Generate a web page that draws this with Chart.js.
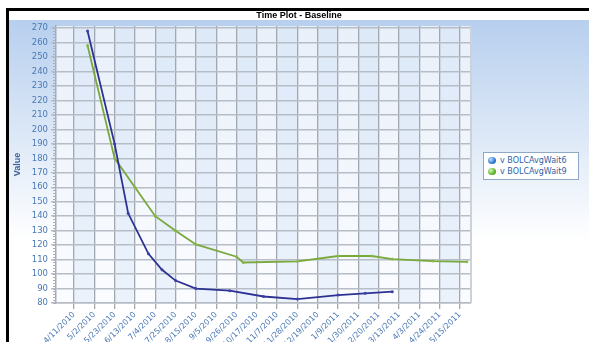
<!DOCTYPE html>
<html>
<head>
<meta charset="utf-8">
<script src="https://cdn.jsdelivr.net/npm/chart.js@4.4.0/dist/chart.umd.min.js"></script>
<style>
  html, body { margin: 0; padding: 0; background: #fff; overflow: hidden; }
  #frame { position: absolute; left: 6px; top: 8px; width: 580px; height: 331px;
           border-top: 3px solid #000; border-left: 3px solid #000; }
  #frame canvas { display: block; }
  #legend { position: absolute; left: 483px; top: 152px; width: 94px; height: 26px;
            border: 1px solid #8ea8c8; background: #fff;
            font: 8px "DejaVu Sans", sans-serif; color: #2f5fa6; }
  #legend div { position: absolute; left: 4px; white-space: nowrap; }
  #legend span { display: inline-block; width: 8px; height: 7px; border-radius: 50%;
                 margin-right: 4px; vertical-align: -1px; }
</style>
</head>
<body>
<div id="frame"><canvas id="plot" width="580" height="331"></canvas></div>
<div id="legend">
  <div style="top:3px"><span style="background:radial-gradient(circle at 35% 35%, #bfe0ff, #2f78cf 60%, #1d4f96)"></span>v BOLCAvgWait6</div>
  <div style="top:14px"><span style="background:radial-gradient(circle at 35% 35%, #d9f5b8, #5cb52a 60%, #3a7f16)"></span>v BOLCAvgWait9</div>
</div>
<script>
// data
var dates6 = ["4/25/2010", "5/23/2010", "6/6/2010", "6/27/2010", "7/11/2010", "7/25/2010", "8/15/2010",
              "9/19/2010", "10/24/2010", "11/28/2010", "1/9/2011", "2/6/2011", "3/6/2011"];
var wait6 = [268, 190, 142, 114, 103, 95.5, 90, 88.5, 84.5, 82.7, 85.5, 86.7, 87.8];

var dates9 = ["4/25/2010", "5/23/2010", "6/13/2010", "7/4/2010", "7/25/2010", "8/15/2010", "9/26/2010",
              "10/3/2010", "11/28/2010", "1/9/2011", "2/13/2011", "3/6/2011", "4/17/2011", "5/22/2011"];
var wait9 = [258, 180, 160, 140, 130, 120.5, 112, 108, 108.8, 112.5, 112.5, 110.4, 109, 108.5];

var tickLabels = ["4/11/2010", "5/2/2010", "5/23/2010", "6/13/2010", "7/4/2010", "7/25/2010", "8/15/2010",
                  "9/5/2010", "9/26/2010", "10/17/2010", "11/7/2010", "11/28/2010", "12/19/2010",
                  "1/9/2011", "1/30/2011", "2/20/2011", "3/13/2011", "4/3/2011", "4/24/2011", "5/15/2011"];

function dayNum(s) {
  var p = s.split("/");
  return Date.UTC(+p[2], +p[0] - 1, +p[1]) / 86400000;
}

function toPoints(dates, vals) {
  return dates.map(function (d, i) { return { x: dayNum(d), y: vals[i] }; });
}

var start = dayNum(tickLabels[0]);

var bgPlugin = {
  id: "bg",
  beforeDraw: function (chart) {
    var c = chart.ctx, a = chart.chartArea, xs = chart.scales.x;
    c.save();
    c.fillStyle = "#fff";
    c.fillRect(0, 0, chart.width, chart.height);
    var g = c.createLinearGradient(0, 9, 0, 230);
    g.addColorStop(0, "#b7cfee");
    g.addColorStop(1, "#ffffff");
    c.fillStyle = g;
    c.fillRect(0, 9, chart.width, chart.height - 9);

    var g2 = c.createLinearGradient(0, a.top, 0, a.bottom);
    g2.addColorStop(0, "#e9f0fa");
    g2.addColorStop(1, "#fbfcff");
    c.fillStyle = g2;
    c.fillRect(a.left, a.top, a.right - a.left, a.bottom - a.top);

    // every other column a little bluer
    c.fillStyle = "rgba(180,208,242,0.22)";
    var t = xs.ticks;
    for (var i = 0; i < t.length; i += 2) {
      var x0 = xs.getPixelForValue(t[i].value);
      var x1 = i + 1 < t.length ? xs.getPixelForValue(t[i + 1].value) : a.right;
      c.fillRect(x0, a.top, x1 - x0, a.bottom - a.top);
    }
    c.restore();
  },
  beforeDatasetsDraw: function (chart) {
    var c = chart.ctx, a = chart.chartArea, ys = chart.scales.y;
    c.save();
    // minor ticks on the value axis
    c.strokeStyle = "#a8b0ba";
    c.lineWidth = 1;
    for (var v = 80; v <= 270; v += 2) {
      var y = Math.round(ys.getPixelForValue(v)) + 0.5;
      c.beginPath();
      c.moveTo(a.left - 3, y);
      c.lineTo(a.left, y);
      c.stroke();
    }
    // right edge of plot
    c.strokeStyle = "#cdd2d9";
    c.lineWidth = 2;
    c.beginPath();
    c.moveTo(a.right, a.top);
    c.lineTo(a.right, a.bottom);
    c.stroke();
    c.restore();
  }
};

Chart.defaults.font.family = '"DejaVu Sans", sans-serif';

new Chart(document.getElementById("plot"), {
  type: "line",
  data: {
    datasets: [
      {
        label: "v BOLCAvgWait6",
        data: toPoints(dates6, wait6),
        borderColor: "#2c3192",
        backgroundColor: "#3b40a8",
        borderWidth: 1.8,
        pointRadius: 1.5,
        pointBorderWidth: 0,
        tension: 0
      },
      {
        label: "v BOLCAvgWait9",
        data: toPoints(dates9, wait9),
        borderColor: "#79a83c",
        backgroundColor: "#86b84a",
        borderWidth: 1.8,
        pointRadius: 1.5,
        pointBorderWidth: 0,
        tension: 0
      }
    ]
  },
  options: {
    responsive: false,
    animation: false,
    layout: { padding: 0 },
    plugins: {
      legend: { display: false },
      tooltip: { enabled: false },
      title: {
        display: true,
        text: "Time Plot - Baseline",
        color: "#000",
        font: { family: '"Liberation Sans", sans-serif', size: 9, weight: "bold", lineHeight: 1 },
        padding: { top: 0, bottom: 6 }
      }
    },
    scales: {
      x: {
        type: "linear",
        min: start - 18.6,
        max: start + 410.4,
        afterBuildTicks: function (s) {
          s.ticks = tickLabels.map(function (l) { return { value: dayNum(l) }; });
        },
        afterFit: function (s) { s.height = 39; },
        ticks: {
          autoSkip: false,
          maxRotation: 45,
          minRotation: 45,
          padding: 1,
          color: "#4a79b5",
          font: { size: 8 },
          callback: function (v, i) { return tickLabels[i]; }
        },
        grid: { color: "#a2a8b0", lineWidth: 1.3, tickLength: 6 },
        border: { display: true, color: "#b4bbc4", width: 1.5 }
      },
      y: {
        min: 80,
        max: 271.5,
        afterFit: function (s) { s.width = 47; },
        ticks: {
          stepSize: 10,
          includeBounds: false,
          padding: 3,
          color: "#4a79b5",
          font: { size: 8.5 }
        },
        grid: { color: "#b6bdc6", lineWidth: 1.5, tickLength: 5 },
        border: { display: true, color: "#a4acb6", width: 1.5 },
        title: {
          display: true,
          text: "Value",
          color: "#3d6597",
          font: { family: '"Liberation Sans", sans-serif', size: 9, weight: "bold" },
          padding: { top: 3, bottom: 0 }
        }
      },
      // empty space on the right where the legend sits
      side: {
        position: "right",
        afterFit: function (s) { s.width = 118; },
        ticks: { display: false },
        grid: { display: false },
        border: { display: false }
      }
    }
  },
  plugins: [bgPlugin]
});
</script>
</body>
</html>
